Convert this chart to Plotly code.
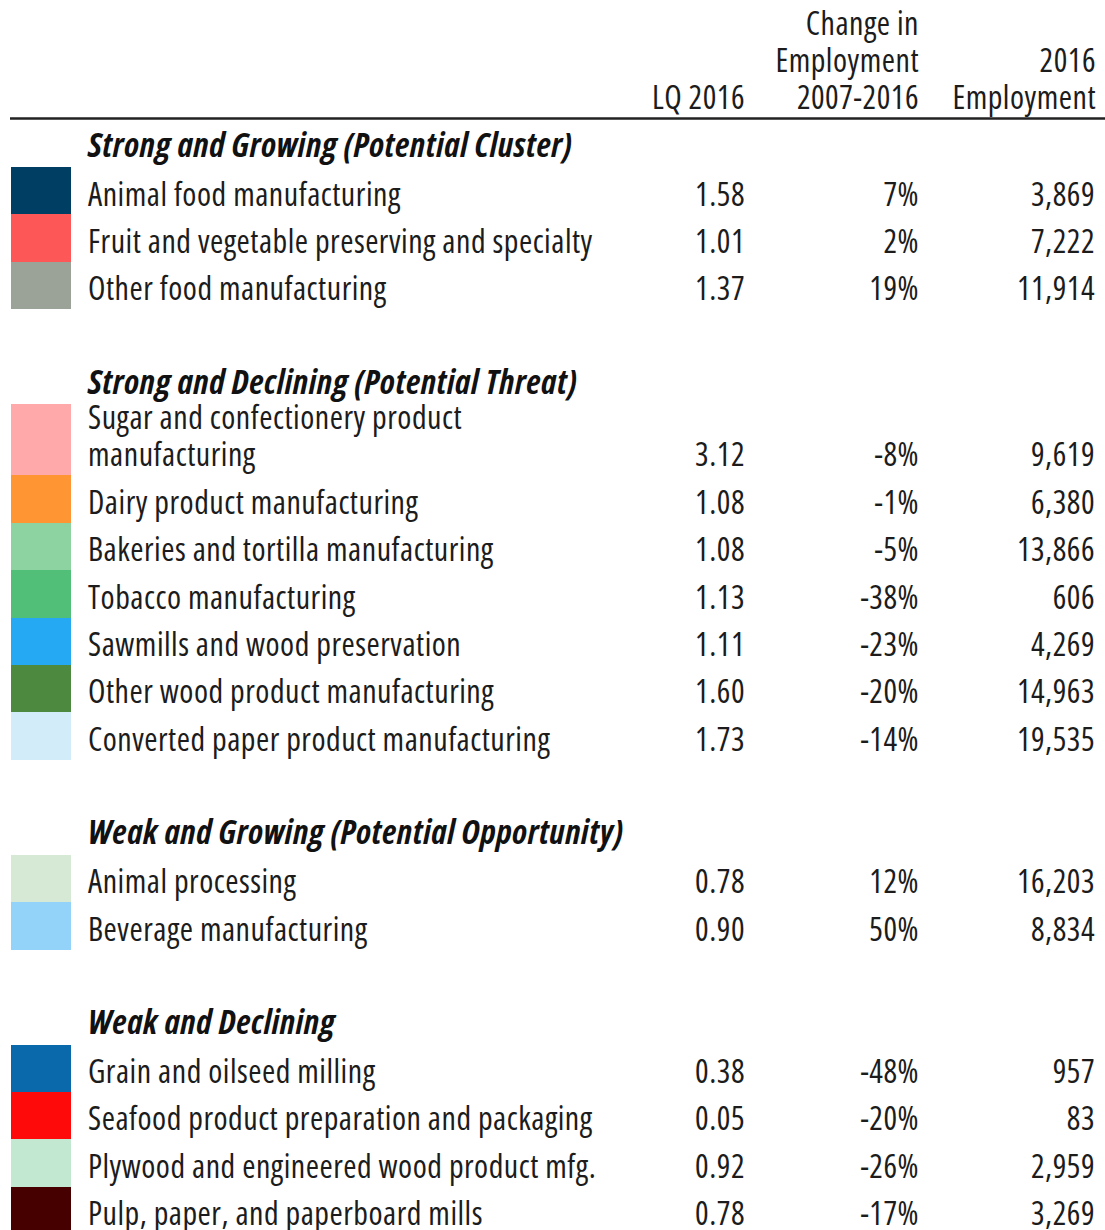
import plotly.graph_objects as go

# ---------------- data ----------------
group_names = [
    "Strong and Growing (Potential Cluster)",
    "Strong and Declining (Potential Threat)",
    "Weak and Growing (Potential Opportunity)",
    "Weak and Declining",
]
industries = [
    "Animal food manufacturing",
    "Fruit and vegetable preserving and specialty",
    "Other food manufacturing",
    "Sugar and confectionery product<br>manufacturing",
    "Dairy product manufacturing",
    "Bakeries and tortilla manufacturing",
    "Tobacco manufacturing",
    "Sawmills and wood preservation",
    "Other wood product manufacturing",
    "Converted paper product manufacturing",
    "Animal processing",
    "Beverage manufacturing",
    "Grain and oilseed milling",
    "Seafood product preparation and packaging",
    "Plywood and engineered wood product mfg.",
    "Pulp, paper, and paperboard mills",
]
industry_group = [0, 0, 0, 1, 1, 1, 1, 1, 1, 1, 2, 2, 3, 3, 3, 3]
lq_2016 = [1.58, 1.01, 1.37, 3.12, 1.08, 1.08, 1.13, 1.11, 1.60, 1.73, 0.78, 0.90, 0.38, 0.05, 0.92, 0.78]
change_2007_2016 = [7, 2, 19, -8, -1, -5, -38, -23, -20, -14, 12, 50, -48, -20, -26, -17]
employment_2016 = [3869, 7222, 11914, 9619, 6380, 13866, 606, 4269, 14963, 19535, 16203, 8834, 957, 83, 2959, 3269]
swatch_colors = [
    "#003F63", "#FD5757", "#9BA398",
    "#FFA9AB", "#FF9633", "#8DD3A1", "#52BF79", "#24A9F2", "#4D8A3F", "#D3ECFA",
    "#D6E9D5", "#93D3FA",
    "#0A69AA", "#FF0A0A", "#C3E8D1", "#470000",
]
col_headers = ["LQ 2016", "Change in<br>Employment<br>2007-2016", "2016<br>Employment"]

# ---------------- layout geometry ----------------
W, H = 1105, 1230
ROW = 47.4
LINE = 37.0
OFF = 3.5
FONT = "Open Sans, Liberation Sans, Arial, sans-serif"
FS = 32
FS_HEAD = 34
TXT = "#1c1c1c"


def cond(s, ls=0.5):
    return f'<span style="font-stretch:75%;letter-spacing:{ls}px">{s}</span>'


label_x, lq_x, ch_x, emp_x = 88, 745, 919, 1095
col_x = [lq_x, ch_x, emp_x + 1]

# compute row positions
header_y = []
item_top, item_h = [], []
y = 167.0
for g in range(len(group_names)):
    header_y.append(y - 22.5 + OFF)
    top = y
    for i, ig in enumerate(industry_group):
        if ig != g:
            continue
        nlines = industries[i].count("<br>") + 1
        h = ROW * (1 + 0.5 * (nlines - 1))
        item_top.append(top)
        item_h.append(h)
        top += h
    y = top + 75 + 20

item_center = [t + h / 2 for t, h in zip(item_top, item_h)]
value_y = [t + h - 20.4 + OFF for t, h in zip(item_top, item_h)]

# split labels into lines, last line aligned with the values
lab_txt, lab_y = [], []
for s, vy in zip(industries, value_y):
    parts = s.split("<br>")
    for k, p in enumerate(parts):
        lab_txt.append(cond(p))
        lab_y.append(vy - LINE * (len(parts) - 1 - k))

fig = go.Figure()

# swatches
fig.add_trace(go.Bar(
    orientation="h",
    y=item_center,
    x=[60] * len(industries),
    base=[11] * len(industries),
    width=item_h,
    marker=dict(color=swatch_colors, line=dict(width=0)),
    hoverinfo="skip",
    showlegend=False,
))

# group headers
fig.add_trace(go.Scatter(
    x=[label_x] * len(group_names),
    y=header_y,
    mode="text",
    text=[f"<b><i>{cond(g, 0.5)}</i></b>" for g in group_names],
    textposition="middle right",
    textfont=dict(family=FONT, size=FS_HEAD, color="#111111"),
    hoverinfo="skip", showlegend=False,
))

# industry labels
fig.add_trace(go.Scatter(
    x=[label_x] * len(lab_txt),
    y=lab_y,
    mode="text",
    text=lab_txt,
    textposition="middle right",
    textfont=dict(family=FONT, size=FS, color=TXT),
    hoverinfo="skip", showlegend=False,
))

# value columns
for xpos, vals in [
    (lq_x, [f"{v:.2f}" for v in lq_2016]),
    (ch_x, [f"{v}%" for v in change_2007_2016]),
    (emp_x, [f"{v:,}" for v in employment_2016]),
]:
    fig.add_trace(go.Scatter(
        x=[xpos] * len(vals),
        y=value_y,
        mode="text",
        text=[cond(v) for v in vals],
        textposition="middle left",
        textfont=dict(family=FONT, size=FS, color=TXT),
        hoverinfo="skip", showlegend=False,
    ))

# column headers (bottom line sits at y = 97)
hx, hy, ht = [], [], []
for xpos, txt in zip(col_x, col_headers):
    parts = txt.split("<br>")
    for k, p in enumerate(parts):
        hx.append(xpos)
        hy.append(97 - LINE * (len(parts) - 1 - k) + OFF)
        ht.append(cond(p))
fig.add_trace(go.Scatter(
    x=hx, y=hy, mode="text", text=ht,
    textposition="middle left",
    textfont=dict(family=FONT, size=FS, color=TXT),
    hoverinfo="skip", showlegend=False,
))

# header rule
fig.add_shape(type="line", x0=10, x1=W, y0=118.5, y1=118.5, xref="x", yref="y",
              line=dict(color="#222222", width=2.5))

fig.update_layout(
    width=W, height=H,
    margin=dict(l=0, r=0, t=0, b=0),
    paper_bgcolor="white", plot_bgcolor="white",
    xaxis=dict(range=[0, W], visible=False, fixedrange=True),
    yaxis=dict(range=[H, 0], visible=False, fixedrange=True),
    bargap=0,
)

fig.write_html(
    "out.html",
    config={"displayModeBar": False, "staticPlot": True},
    post_script="document.body.style.margin='0';",
)
